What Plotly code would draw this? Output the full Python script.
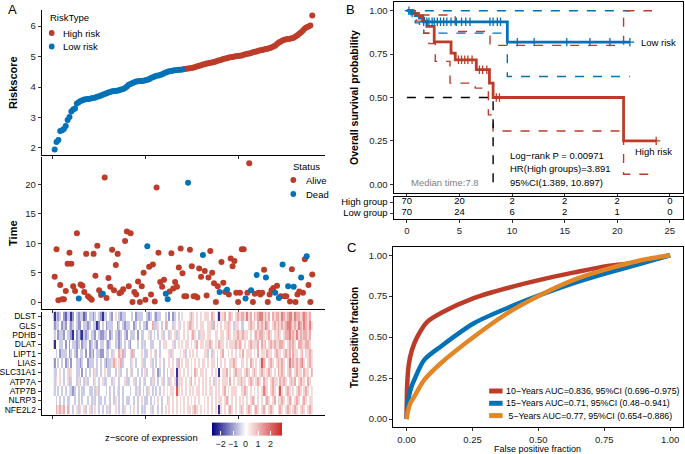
import plotly.graph_objects as go

W, H = 685, 454
def fx(px): return px / W
def fy(py): return 1 - py / H

RED = "#BC3C29"; BLUE = "#0072B5"; ORANGE = "#E18727"
FONT = "Liberation Sans, Arial, sans-serif"

# ---------------- Panel A data ----------------
risk_low = [1.95, 2.20, 2.26, 2.56, 2.58, 2.62, 2.72, 2.92, 3.02, 3.20, 3.26, 3.30, 3.46, 3.50, 3.54, 3.57, 3.59, 3.60, 3.61, 3.62,
            3.63, 3.64, 3.66, 3.68, 3.70, 3.72, 3.75, 3.77, 3.80, 3.82, 3.84, 3.86, 3.87, 3.88, 3.88, 3.90, 3.92, 3.94, 3.97, 4.02,
            4.08, 4.10, 4.13, 4.16, 4.18, 4.19, 4.20, 4.20, 4.21, 4.22, 4.24, 4.26, 4.30, 4.32, 4.35, 4.37, 4.38, 4.40, 4.42, 4.45,
            4.48, 4.50, 4.52, 4.53, 4.54, 4.55, 4.56, 4.57, 4.57, 4.58]
risk_high = [4.59, 4.60, 4.61, 4.62, 4.63, 4.64, 4.66, 4.68, 4.70, 4.72,
             4.74, 4.75, 4.77, 4.78, 4.80, 4.81, 4.82, 4.84, 4.86, 4.88,
             4.90, 4.92, 4.94, 4.95, 4.97, 4.98, 4.99, 5.00, 5.01, 5.02,
             5.03, 5.04, 5.06, 5.08, 5.09, 5.10, 5.12, 5.14, 5.16, 5.17,
             5.19, 5.21, 5.22, 5.23, 5.25, 5.26, 5.28, 5.30, 5.33, 5.36,
             5.41, 5.46, 5.50, 5.53, 5.55, 5.57, 5.58, 5.59, 5.60, 5.62,
             5.66, 5.70, 5.75, 5.80, 5.86, 5.92, 5.96, 5.99, 6.02, 6.35]
risk_labels = ["High risk", "Low risk"]

surv_time = [4.3, 9.0, 0.3, 2.9, 0.5, 0.5, 1.9, 6.5, 8.4, 6.5,
             2.7, 1.9, 11.7, 0.6, 3.0, 2.8, 1.7, 8.2, 1.0, 0.7,
             0.4, 8.2, 4.5, 9.6, 2.0, 1.2, 1.4, 21.2, 0.7, 4.1,
             2.6, 8.9, 2.0, 6.3, 8.2, 1.5, 1.7, 2.2, 10.4, 12.0,
             2.7, 11.7, 0.0, 1.7, 1.3, 3.5, 0.0, 2.7, 5.0, 0.4,
             9.5, 6.0, 1.3, 6.4, 0.1, 19.5, 8.4, 3.4, 2.6, 3.8,
             1.4, 0.5, 1.8, 8.3, 2.3, 3.4, 2.6, 5.9, 9.1, 4.9,
             1.0, 1.0, 20.3, 8.9, 6.1, 1.0, 1.0, 0.8, 5.7, 4.3,
             8.0, 5.3, 1.1, 4.2, 8.7, 5.0, 3.2, 0.0, 2.7, 1.7,
             6.8, 3.3, 1.7, 2.1, 1.3, 7.4, 6.1, 7.0, 1.6, 0.0,
             1.6, 9.0, 9.0, 0.6, 1.6, 23.6, 2.0, 0.0, 1.4, 4.6,
             1.6, 1.3, 1.6, 5.5, 4.2, 0.0, 1.3, 2.0, 2.4, 1.6,
             2.8, 0.7, 1.0, 6.4, 1.0, 1.0, 2.7, 0.1, 5.6, 2.6,
             0.0, 1.3, 1.8, 4.2, 1.6, 7.3, 7.8, 2.9, 0.0, 4.7]
dead_samples = [14, 27, 51, 61, 62, 73, 81, 90, 94, 104, 107, 110, 115, 120, 122, 124, 127, 130, 134, 137]
status_labels = ["Alive", "Dead"]

genes = ["DLST", "GLS", "PDHB", "DLAT", "LIPT1", "LIAS", "SLC31A1", "ATP7A", "ATP7B", "NLRP3", "NFE2L2"]
# expression z-score levels per sample, '0'..'8' -> (level-4)*0.55
expr_levels = {
    "DLST":    ["03234213302432331243", "32343203343245432334", "44342333443234323344", "34242343454445654545", "45554654505564565456", "56657564656775656465", "66576567757665676564"],
    "GLS":     ["23342324323432243323", "43302434233344234323", "34423434332446335434", "63443545345456354545", "54455364545455654355", "43344565546565765456", "56565677656576576575"],
    "PDHB":    ["34233243320423103234", "33243223342343323432", "43334243344534343453", "44354535445454565435", "55455445545545654556", "55655454565665456545", "56545667565756566564"],
    "DLAT":    ["04433424243323423342", "34324334323443523434", "32444343534433444345", "54445345454554545645", "54556545465545455565", "65454565556465645656", "55665456565466556654"],
    "LIPT1":   ["43423334234324334242", "32433224334354465634", "45634445433454534344", "44535444545345454544", "45534354545644545454", "54645554546455465545", "65545656465545645565"],
    "LIAS":    ["24343423424433234423", "33434343233565456344", "43543445334453434543", "44545436454554545454", "55454554645454455654", "45545465454586545654", "56565457565656754565"],
    "SLC31A1": ["33454345354433424343", "43534345433443453443", "45344343453443542343", "43455405545454546545", "54544545404556454565", "55456545654565456545", "46565456545655465546"],
    "ATP7A":   ["35454345634435343534", "43543453344354434453", "34453434534435343453", "45354515554545645454", "54545435454555464545", "56554565456546554565", "54656545656456554654"],
    "ATP7B":   ["34343434532343433443", "34353444343434534344", "43443534343543434345", "45455485454545454554", "54545545454564545554", "45565454545457654565", "45854565454565456545"],
    "NLRP3":   ["43434343344343434434", "35343343443435434343", "34434345433434345434", "43545454545454545454", "45454545455456545454", "54545456545454565456", "45565456545654565455"],
    "NFE2L2":  ["46565646543453545345", "34543434353445434354", "43454343534453443434", "54545454545455456545", "45454545405454565454", "56545654565456545654", "45654565456545654565"],
}

# ---------------- Panel B data ----------------
km_low_t = [0, 0.4, 0.8, 1.2, 1.6, 9.55, 21.2]
km_low_s = [1.0, 0.986, 0.971, 0.957, 0.936, 0.819, 0.819]
km_low_up_t = [0, 21.2]
km_low_up_s = [1.0, 1.0]
km_low_lo_t = [0, 0.4, 0.8, 1.2, 1.6, 9.55, 21.2]
km_low_lo_s = [1.0, 0.96, 0.93, 0.90, 0.871, 0.621, 0.621]
km_high_t = [0, 0.6, 1.1, 1.5, 1.9, 2.6, 4.2, 4.6, 6.6, 7.85, 8.2, 20.6, 23.7]
km_high_s = [1.0, 0.985, 0.97, 0.94, 0.91, 0.82, 0.756, 0.717, 0.66, 0.583, 0.50, 0.25, 0.25]
km_high_up_t = [0, 1.3, 4.6, 7.9, 20.6, 23.3]
km_high_up_s = [1.0, 0.975, 0.88, 0.80, 1.0, 1.0]
km_high_lo_t = [0, 0.9, 1.6, 2.1, 2.7, 4.1, 6.5, 7.75, 8.2, 20.6, 23.7]
km_high_lo_s = [1.0, 0.94, 0.87, 0.81, 0.708, 0.583, 0.554, 0.40, 0.307, 0.058, 0.058]
low_censor_t = [0.2, 0.5, 1.6, 1.9, 2.1, 2.4, 2.6, 2.9, 3.2, 3.5, 3.8, 4.2, 4.7, 5.2, 5.6, 6.0, 7.9, 8.2, 8.6, 8.9, 10.5, 12.1, 15.2, 17.4, 19.3, 21.2]
high_censor_t = [4.9, 5.2, 5.5, 5.8, 6.2, 6.9, 7.2, 7.6, 8.5, 8.8, 23.7]
median_time = 8.2
table_times = [0, 5, 10, 15, 20, 25]
n_risk_high = [70, 20, 2, 2, 2, 0]
n_risk_low = [70, 24, 6, 2, 1, 0]

# ---------------- Panel C data ----------------
roc_10_fpr = [0, 0.002, 0.008, 0.02, 0.04, 0.08, 0.13, 0.257, 0.383, 0.51, 0.637, 0.763, 0.89, 1.0]
roc_10_tpr = [0, 0.20, 0.33, 0.42, 0.50, 0.596, 0.647, 0.739, 0.80, 0.851, 0.895, 0.935, 0.958, 1.0]
roc_15_fpr = [0, 0.005, 0.015, 0.029, 0.067, 0.13, 0.257, 0.383, 0.51, 0.637, 0.763, 0.89, 1.0]
roc_15_tpr = [0, 0.10, 0.18, 0.239, 0.361, 0.443, 0.586, 0.678, 0.759, 0.831, 0.892, 0.949, 1.0]
roc_5_fpr = [0, 0.005, 0.015, 0.029, 0.067, 0.13, 0.257, 0.383, 0.51, 0.637, 0.763, 0.89, 1.0]
roc_5_tpr = [0, 0.05, 0.10, 0.137, 0.239, 0.341, 0.504, 0.647, 0.759, 0.851, 0.916, 0.969, 1.0]
roc_labels = ["10\u2212Years AUC=0.836, 95%CI (0.696\u22120.975)",
              "15\u2212Years AUC=0.71, 95%CI (0.48\u22120.941)",
              " 5\u2212Years AUC=0.77, 95%CI (0.654\u22120.886)"]

# ---------------- build ----------------
n = len(risk_low) + len(risk_high)
idx_low = list(range(1, len(risk_low) + 1))
idx_high = list(range(len(risk_low) + 1, n + 1))
all_idx = list(range(1, n + 1))

fig = go.Figure()
mk = dict(size=6, line=dict(width=0))
fig.add_trace(go.Scatter(x=idx_high, y=risk_high, mode="markers", marker=dict(color=RED, **mk),
                         name="High risk", showlegend=False, xaxis="x", yaxis="y"))
fig.add_trace(go.Scatter(x=idx_low, y=risk_low, mode="markers", marker=dict(color=BLUE, **mk),
                         name="Low risk", showlegend=False, xaxis="x", yaxis="y"))

alive_x = [i for i in all_idx if i not in dead_samples]
alive_y = [surv_time[i - 1] for i in alive_x]
dead_y = [surv_time[i - 1] for i in dead_samples]
fig.add_trace(go.Scatter(x=alive_x, y=alive_y, mode="markers", marker=dict(color=RED, **mk),
                         name="Alive", showlegend=False, xaxis="x2", yaxis="y2"))
fig.add_trace(go.Scatter(x=dead_samples, y=dead_y, mode="markers", marker=dict(color=BLUE, **mk),
                         name="Dead", showlegend=False, xaxis="x2", yaxis="y2"))

z = []
for g in genes:
    s = "".join(expr_levels[g])
    s = (s + "4" * n)[:n]
    z.append([(int(c) - 4) * 0.55 for c in s])
zmin, zmax = -2.72, 2.88
mid = (0 - zmin) / (zmax - zmin)
fig.add_trace(go.Heatmap(
    z=z, x=all_idx, y=list(range(len(genes))), zmin=zmin, zmax=zmax,
    colorscale=[[0, "#000080"], [mid / 2, "#8080C0"], [mid, "#FFFFFF"], [(1 + mid) / 2, "#E69393"], [1, "#CD2626"]],
    xaxis="x3", yaxis="y3", showscale=True,
    colorbar=dict(orientation="h", x=fx(244), xanchor="center", y=fy(437.5), yanchor="middle",
                  len=70 / W, lenmode="fraction", thickness=13, outlinewidth=0,
                  tickvals=[-2, -1, 0, 1, 2], ticktext=["\u22122", "\u22121", "0", "1", "2"],
                  ticks="inside", tickcolor="white", ticklen=4, tickangle=0,
                  tickfont=dict(size=9, color="#222"), xpad=0, ypad=0)))

# KM
def step_lookup(ts, ss, t):
    v = ss[0]
    for a, b in zip(ts, ss):
        if a <= t:
            v = b
    return v

dash = dict(width=1.4, dash="dash")
for tt, ss, col in [(km_low_up_t, km_low_up_s, BLUE), (km_low_lo_t, km_low_lo_s, BLUE),
                    (km_high_up_t, km_high_up_s, RED), (km_high_lo_t, km_high_lo_s, RED)]:
    fig.add_trace(go.Scatter(x=tt, y=ss, mode="lines", line=dict(color=col, shape="hv", **dash),
                             showlegend=False, xaxis="x5", yaxis="y5"))
fig.add_trace(go.Scatter(x=[0, median_time, median_time], y=[0.5, 0.5, 0], mode="lines",
                         line=dict(color="black", width=1.4, dash="dash"), showlegend=False, xaxis="x5", yaxis="y5"))
fig.add_trace(go.Scatter(x=km_low_t, y=km_low_s, mode="lines", line=dict(color=BLUE, width=2.8, shape="hv"),
                         showlegend=False, xaxis="x5", yaxis="y5"))
fig.add_trace(go.Scatter(x=km_high_t, y=km_high_s, mode="lines", line=dict(color=RED, width=2.8, shape="hv"),
                         showlegend=False, xaxis="x5", yaxis="y5"))
fig.add_trace(go.Scatter(x=low_censor_t, y=[step_lookup(km_low_t, km_low_s, t) for t in low_censor_t],
                         mode="markers", marker=dict(symbol="cross-thin", size=6, line=dict(width=1.3, color=BLUE)),
                         showlegend=False, xaxis="x5", yaxis="y5"))
fig.add_trace(go.Scatter(x=high_censor_t, y=[step_lookup(km_high_t, km_high_s, t) for t in high_censor_t],
                         mode="markers", marker=dict(symbol="cross-thin", size=6, line=dict(width=1.3, color=RED)),
                         showlegend=False, xaxis="x5", yaxis="y5"))

# risk table
fig.add_trace(go.Scatter(x=table_times, y=[2] * len(table_times), mode="text",
                         text=[str(v) for v in n_risk_high], textfont=dict(size=9.5, color="black", family=FONT),
                         showlegend=False, xaxis="x6", yaxis="y6"))
fig.add_trace(go.Scatter(x=table_times, y=[1] * len(table_times), mode="text",
                         text=[str(v) for v in n_risk_low], textfont=dict(size=9.5, color="black", family=FONT),
                         showlegend=False, xaxis="x6", yaxis="y6"))

# ROC
roc_cols = [RED, BLUE, ORANGE]
for fpr, tpr, col, lab in [(roc_10_fpr, roc_10_tpr, RED, roc_labels[0]),
                           (roc_15_fpr, roc_15_tpr, BLUE, roc_labels[1]),
                           (roc_5_fpr, roc_5_tpr, ORANGE, roc_labels[2])]:
    fig.add_trace(go.Scatter(x=fpr, y=tpr, mode="lines", line=dict(color=col, width=4.5, shape="spline", smoothing=0.8),
                             name=lab, showlegend=False, xaxis="x4", yaxis="y4"))

tickfont = dict(size=9.5, color="#222", family=FONT)
base_ax = dict(showgrid=False, zeroline=False, showline=True, linecolor="black", linewidth=1.3,
               ticks="outside", ticklen=3, tickwidth=1, tickcolor="#333", tickfont=tickfont)

xr = [-5.95, 146.95]
A_dom = [fx(38), fx(323)]
layout = dict(
    width=W, height=H, margin=dict(l=0, r=0, t=0, b=0), paper_bgcolor="white", plot_bgcolor="rgba(0,0,0,0)",
    font=dict(family=FONT, size=9, color="black"), showlegend=False,
    xaxis=dict(base_ax, domain=A_dom, range=xr, tickvals=[0, 50, 100], showticklabels=False, anchor="y"),
    yaxis=dict(base_ax, domain=[fy(155), fy(10)], range=[1.77, 6.53], tickvals=[2, 3, 4, 5, 6], anchor="x"),
    xaxis2=dict(base_ax, domain=A_dom, range=xr, tickvals=[0, 50, 100], showticklabels=False, anchor="y2"),
    yaxis2=dict(base_ax, domain=[fy(309), fy(157)], range=[-1.175, 24.675], tickvals=[0, 5, 10, 15, 20], anchor="x2"),
    xaxis3=dict(base_ax, domain=A_dom, range=xr, tickvals=[0, 50, 100], showticklabels=False, anchor="y3"),
    yaxis3=dict(base_ax, domain=[fy(414.5), fy(311.5)], range=[10.5, -0.5], tickvals=list(range(len(genes))),
                ticktext=genes, anchor="x3", tickfont=dict(size=8.5, color="black", family=FONT)),
    xaxis4=dict(base_ax, domain=[fx(391.7), fx(683.3)], range=[-0.05, 1.05], mirror=True, anchor="y4",
                tickvals=[0, 0.25, 0.5, 0.75, 1], ticktext=["0.00", "0.25", "0.50", "0.75", "1.00"]),
    yaxis4=dict(base_ax, domain=[fy(427.3), fy(247)], range=[-0.05, 1.05], mirror=True, anchor="x4",
                tickvals=[0, 0.25, 0.5, 0.75, 1], ticktext=["0.00", "0.25", "0.50", "0.75", "1.00"]),
    xaxis5=dict(base_ax, domain=[fx(392), fx(683)], range=[-1.25, 26.25], mirror=True, anchor="y5",
                tickvals=table_times, showticklabels=False),
    yaxis5=dict(base_ax, domain=[fy(193), fy(2)], range=[-0.05, 1.05], mirror=True, anchor="x5",
                tickvals=[0, 0.25, 0.5, 0.75, 1], ticktext=["0.00", "0.25", "0.50", "0.75", "1.00"]),
    xaxis6=dict(base_ax, domain=[fx(392), fx(683)], range=[-1.25, 26.25], mirror=True, anchor="y6",
                tickvals=table_times),
    yaxis6=dict(base_ax, domain=[fy(218.5), fy(196.5)], range=[0.5, 2.5], mirror=True, anchor="x6",
                tickvals=[1, 2], ticktext=["Low group", "High group"], tickfont=dict(size=9.5, color="black", family=FONT)),
)
fig.update_layout(**layout)

ann = []
shapes = []
def add_text(text, px, py, size=9, xanchor="center", yanchor="middle", bold=False, angle=0, color="black"):
    ann.append(dict(text=("<b>%s</b>" % text) if bold else text, x=fx(px), y=fy(py), xref="paper", yref="paper",
                    showarrow=False, xanchor=xanchor, yanchor=yanchor, textangle=angle,
                    font=dict(size=size, color=color, family=FONT)))

def legend_dot(px, py, col, r=2.9):
    shapes.append(dict(type="circle", xref="paper", yref="paper", x0=fx(px - r), x1=fx(px + r),
                       y0=fy(py + r), y1=fy(py - r), fillcolor=col, line=dict(width=0)))

def legend_line(px0, px1, py, col):
    shapes.append(dict(type="line", xref="paper", yref="paper", x0=fx(px0), x1=fx(px1), y0=fy(py), y1=fy(py),
                       line=dict(color=col, width=5)))

# legend: RiskType
add_text("RiskType", 44, 18, size=9.5, xanchor="left")
for lab, col, py in zip(risk_labels, [RED, BLUE], [33, 46.5]):
    legend_dot(48, py, col)
    add_text(lab, 57.5, py, size=9.5, xanchor="left")
# legend: Status
add_text("Status", 289, 166.5, size=9.5, xanchor="left")
for lab, col, py in zip(status_labels, [RED, BLUE], [180, 194]):
    legend_dot(291, py, col)
    add_text(lab, 301.5, py, size=9.5, xanchor="left")
# legend: ROC
for lab, col, py in zip(roc_labels, roc_cols, [391, 403.3, 415.6]):
    legend_line(488, 501.5, py, col)
    add_text(lab, 503, py, size=8.8, xanchor="left")

add_text("A", 2, 9, size=13, xanchor="left")
add_text("B", 342, 9, size=13, xanchor="left")
add_text("C", 343, 247, size=13, xanchor="left")
add_text("Riskscore", 9, 82, size=11, bold=True, angle=-90)
add_text("Time", 9, 233, size=11, bold=True, angle=-90)
add_text("z\u2212score of expression", 148, 437, size=9.5)
add_text("Overall survival probability", 352, 97, size=10.5, bold=True, angle=-90)
add_text("True positive fraction", 352, 337, size=10, bold=True, angle=-90)
add_text("False positive fraction", 537, 449, size=9)
add_text("Low risk", 639, 43, size=9.5, xanchor="left")
add_text("High risk", 633, 152, size=9.5, xanchor="left")
add_text("Log\u2212rank P = 0.00971", 507, 155, size=9.5, xanchor="left")
add_text("HR(High groups)=3.891", 507, 168.5, size=9.5, xanchor="left")
add_text("95%CI(1.389, 10.897)", 507, 182, size=9.5, xanchor="left")
add_text("Median time:7.8", 407, 182, size=9.5, xanchor="left", color="#808080")
fig.update_layout(annotations=ann, shapes=shapes)

fig.write_html("out.html", config={"displayModeBar": False},
               post_script="document.body.style.margin='0';document.body.style.padding='0';")
